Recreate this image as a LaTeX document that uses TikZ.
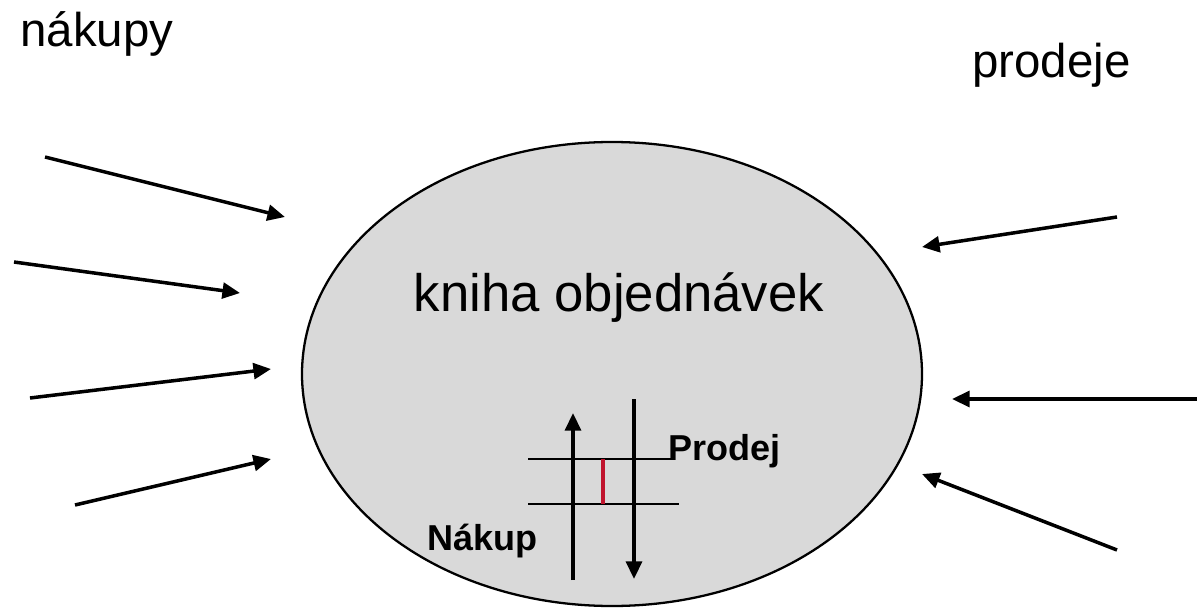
\documentclass[tikz,border=0pt]{standalone}
\usepackage{fontspec}
\setmainfont{Liberation Sans}
\usetikzlibrary{arrows.meta}
\definecolor{knihagray}{RGB}{217,217,217}
\definecolor{obchodred}{RGB}{192,20,45}
\tikzset{
  tok/.style={line width=2pt, -{Triangle[length=10pt,width=9pt]}},
  popis/.style={font=\fontsize{27}{32}\selectfont, anchor=base west, inner sep=0pt},
  tucny/.style={font=\fontsize{20.5}{24}\selectfont\bfseries, anchor=base west, inner sep=0pt},
}

\begin{document}
\begin{tikzpicture}[x=0.02cm, y=-0.02cm]
			%%%%% START %%%%%
			\useasboundingbox (0,0) rectangle (1197,608);
			
			\draw[line width=1.3pt, fill=knihagray] (612,374) ellipse (310 and 232);
			\node[font=\fontsize{30}{36}\selectfont, anchor=base, inner sep=0pt] (kniha) at (619,311) {kniha objednávek};
			
			\node[popis] (nakupy) at (20,47) {nákupy};
			\node[popis] (prodeje) at (972,78) {prodeje};
			
			% nakupy
			\coordinate (n1a) at (45,157);  \coordinate (n1b) at (285,217);
			\coordinate (n2a) at (14,262);  \coordinate (n2b) at (240,293);
			\coordinate (n3a) at (30,398);  \coordinate (n3b) at (271,369);
			\coordinate (n4a) at (75,505);  \coordinate (n4b) at (271,459);
			\draw[tok] (n1a) -- (n1b);
			\draw[tok] (n2a) -- (n2b);
			\draw[tok] (n3a) -- (n3b);
			\draw[tok] (n4a) -- (n4b);
			
			% prodeje
			\coordinate (p1a) at (1117,217); \coordinate (p1b) at (922,247);
			\coordinate (p2a) at (1197,399); \coordinate (p2b) at (952,399);
			\coordinate (p3a) at (1117,550); \coordinate (p3b) at (922,474);
			\draw[tok] (p1a) -- (p1b);
			\draw[tok] (p2a) -- (p2b);
			\draw[tok] (p3a) -- (p3b);
			
			% kniha
			\coordinate (nakA) at (573,580); \coordinate (nakB) at (573,413);
			\coordinate (proA) at (634,399); \coordinate (proB) at (634,579);
			\draw[tok] (nakA) -- (nakB);
			\draw[tok] (proA) -- (proB);
			\coordinate (h1a) at (528,459); \coordinate (h1b) at (672,459);
			\coordinate (h2a) at (528,504); \coordinate (h2b) at (679,504);
			\draw[line width=1.2pt] (h1a) -- (h1b);
			\draw[line width=1.2pt] (h2a) -- (h2b);
			\draw[line width=2.8pt, color=obchodred] (603,459) -- (603,504);
			
			\node[tucny] (prodej) at (668,460) {Prodej};
			\node[tucny] (nakup) at (427,550) {Nákup};
			
			%%%%% END %%%%%
		\end{tikzpicture}
\end{document}
